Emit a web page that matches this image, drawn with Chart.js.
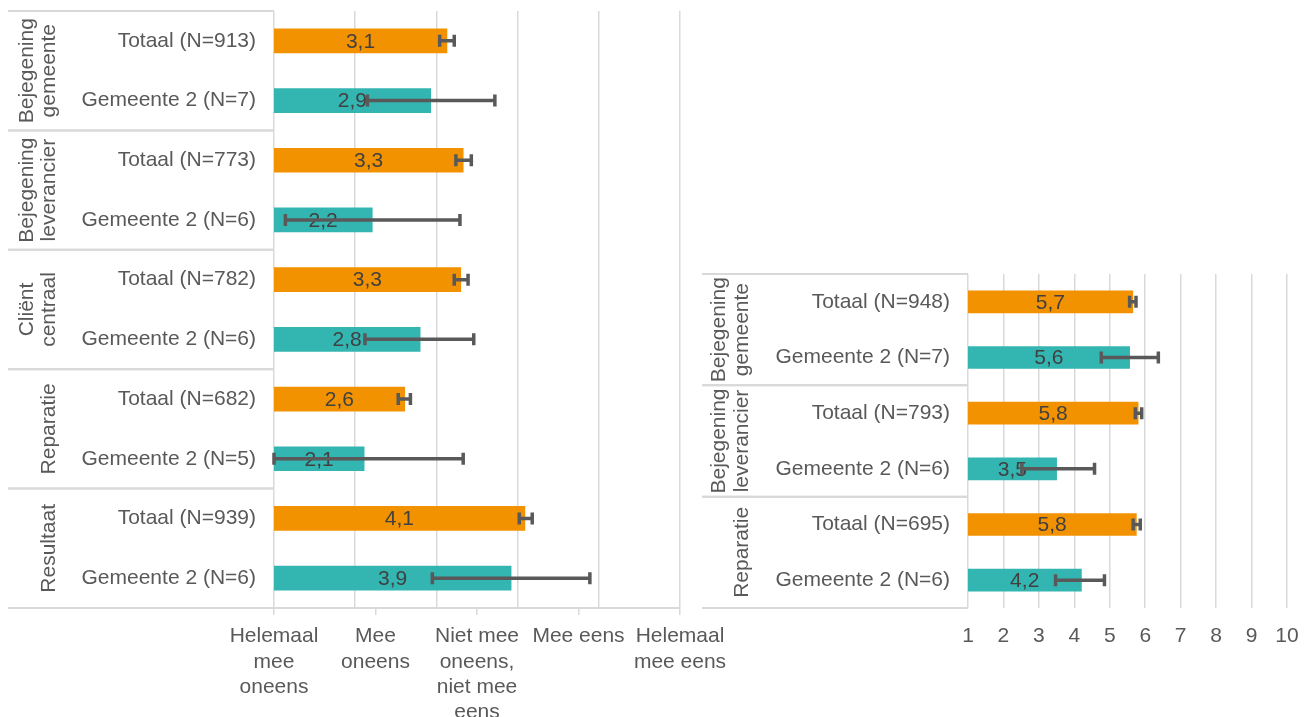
<!DOCTYPE html>
<html>
<head>
<meta charset="utf-8">
<script src="https://cdn.jsdelivr.net/npm/chart.js@4"></script>
<style>
  body { margin: 0; background: #fff; width: 1312px; height: 717px; overflow: hidden; position: relative; }
  #left { position: absolute; left: 0; top: 0; }
  #right { position: absolute; left: 690px; top: 260px; }
</style>
</head>
<body>
<canvas id="left" width="740" height="717"></canvas>
<canvas id="right" width="622" height="457"></canvas>
<script>
// left chart: agreement scale
const groupsL = [['Bejegening', 'gemeente'], ['Bejegening', 'leverancier'], ['Cliënt', 'centraal'], ['Reparatie'], ['Resultaat']];
const catsL = ['Totaal (N=913)', 'Gemeente 2 (N=7)', 'Totaal (N=773)', 'Gemeente 2 (N=6)', 'Totaal (N=782)',
  'Gemeente 2 (N=6)', 'Totaal (N=682)', 'Gemeente 2 (N=5)', 'Totaal (N=939)', 'Gemeente 2 (N=6)'];
const valuesL = [3.13, 2.93, 3.33, 2.21, 3.30, 2.80, 2.61, 2.11, 4.09, 3.92];
const lowL = [3.04, 2.15, 3.24, 1.14, 3.22, 2.12, 2.53, 1.0, 4.02, 2.95];
const highL = [3.22, 3.72, 3.43, 3.29, 3.39, 3.46, 2.68, 3.33, 4.18, 4.89];
const scaleLabelsL = [['Helemaal', 'mee', 'oneens'], ['Mee', 'oneens'], ['Niet mee', 'oneens,', 'niet mee', 'eens'], ['Mee eens'], ['Helemaal', 'mee eens']];

// right chart: grades 1-10
const groupsR = [['Bejegening', 'gemeente'], ['Bejegening', 'leverancier'], ['Reparatie']];
const catsR = ['Totaal (N=948)', 'Gemeente 2 (N=7)', 'Totaal (N=793)', 'Gemeente 2 (N=6)', 'Totaal (N=695)', 'Gemeente 2 (N=6)'];
const valuesR = [5.65, 5.56, 5.8, 3.5, 5.75, 4.2];
const lowR = [5.56, 4.76, 5.72, 2.52, 5.66, 3.47];
const highR = [5.74, 6.37, 5.9, 4.57, 5.86, 4.85];

const ORANGE = '#F39200';
const TEAL = '#33B5B1';
const GRID = '#d9d9d9';
const TEXT = '#595959';

Chart.defaults.font.family = '"Liberation Sans", Arial, sans-serif';
Chart.defaults.font.size = 21;
Chart.defaults.color = TEXT;

// group labels + separator lines in the label column
const groupPlugin = {
  id: 'groups',
  afterDraw(chart, args, opts) {
    const ctx = chart.ctx;
    const ys = chart.scales.y;
    const half = (ys.getPixelForValue(1) - ys.getPixelForValue(0)) / 2;
    ctx.save();
    ctx.strokeStyle = GRID;
    ctx.lineWidth = 2;
    opts.groups.forEach((lines, g) => {
      const top = ys.getPixelForValue(g * 2) - half;
      const bottom = ys.getPixelForValue(g * 2 + 1) + half;
      ctx.beginPath();
      ctx.moveTo(opts.lineLeft, top);
      ctx.lineTo(chart.chartArea.left, top);
      ctx.moveTo(opts.lineLeft, bottom);
      ctx.lineTo(chart.chartArea.left, bottom);
      ctx.stroke();
      ctx.fillStyle = TEXT;
      ctx.font = '21px "Liberation Sans", Arial, sans-serif';
      ctx.textAlign = 'center';
      ctx.textBaseline = 'middle';
      lines.forEach((t, i) => {
        const x = opts.textX - (lines.length - 1 - i) * opts.gap;
        ctx.save();
        ctx.translate(x, (top + bottom) / 2);
        ctx.rotate(-Math.PI / 2);
        ctx.fillText(t, 0, 0);
        ctx.restore();
      });
    });
    ctx.restore();
  }
};

// value labels and error bars
const barExtras = {
  id: 'extras',
  afterDatasetsDraw(chart, args, opts) {
    const ctx = chart.ctx;
    const xs = chart.scales.x;
    const meta = chart.getDatasetMeta(0);
    const vals = chart.data.datasets[0].data;
    const left = chart.chartArea.left;
    ctx.save();
    ctx.fillStyle = '#404040';
    ctx.font = '21px "Liberation Sans", Arial, sans-serif';
    ctx.textAlign = 'center';
    ctx.textBaseline = 'middle';
    meta.data.forEach((el, i) => {
      ctx.fillText(vals[i].toFixed(1).replace('.', ','), (el.x + Math.max(el.base, left)) / 2, el.y + 1);
    });
    ctx.strokeStyle = '#595959';
    ctx.lineWidth = 3.5;
    meta.data.forEach((el, i) => {
      const x1 = xs.getPixelForValue(opts.low[i]);
      const x2 = xs.getPixelForValue(opts.high[i]);
      ctx.beginPath();
      ctx.moveTo(x1, el.y);
      ctx.lineTo(x2, el.y);
      ctx.moveTo(x1, el.y - 6);
      ctx.lineTo(x1, el.y + 6);
      ctx.moveTo(x2, el.y - 6);
      ctx.lineTo(x2, el.y + 6);
      ctx.stroke();
    });
    ctx.restore();
  }
};

const colorsFor = (cats) => cats.map((c) => c.startsWith('Totaal') ? ORANGE : TEAL);

const fitCategoryAxis = (w) => (s) => {
  s.width = w;
  s.paddingTop = 0;
  s.paddingBottom = 0;
};

const fitValueAxis = (h) => (s) => {
  s.height = h;
  s.paddingLeft = 0;
  s.paddingRight = 0;
};

new Chart(document.getElementById('left'), {
  type: 'bar',
  data: {
    labels: catsL,
    datasets: [{ data: valuesL, backgroundColor: colorsFor(catsL), barThickness: 24 }]
  },
  options: {
    indexAxis: 'y',
    responsive: false,
    animation: false,
    layout: { padding: { left: 0, top: 11, right: 60, bottom: 0 } },
    plugins: {
      legend: { display: false },
      tooltip: { enabled: false },
      groups: { groups: groupsL, lineLeft: 8, textX: 49, gap: 22 },
      extras: { low: lowL, high: highL }
    },
    scales: {
      y: {
        ticks: { padding: 18, color: TEXT },
        grid: { display: false, drawTicks: false },
        border: { display: false },
        afterFit: fitCategoryAxis(274)
      },
      x: {
        type: 'linear', min: 1, max: 6,
        ticks: { display: false, stepSize: 1 },
        grid: { color: GRID, lineWidth: 1.5, drawTicks: false },
        border: { display: false },
        afterFit: fitValueAxis(0)
      },
      x2: {
        type: 'linear', position: 'bottom', min: 0, max: 4,
        ticks: { stepSize: 1, padding: 9, color: TEXT, maxRotation: 0, font: { size: 21, lineHeight: 1.2 },
          callback: (v) => scaleLabelsL[v] },
        grid: { drawOnChartArea: false, tickLength: 7, color: GRID, lineWidth: 1.5 },
        border: { color: GRID, width: 2 },
        afterFit: fitValueAxis(109)
      }
    }
  },
  plugins: [groupPlugin, barExtras]
});

new Chart(document.getElementById('right'), {
  type: 'bar',
  data: {
    labels: catsR,
    datasets: [{ data: valuesR, backgroundColor: colorsFor(catsR), barThickness: 22 }]
  },
  options: {
    indexAxis: 'y',
    responsive: false,
    animation: false,
    layout: { padding: { left: 0, top: 14, right: 25, bottom: 0 } },
    plugins: {
      legend: { display: false },
      tooltip: { enabled: false },
      groups: { groups: groupsR, lineLeft: 12, textX: 52, gap: 23 },
      extras: { low: lowR, high: highR }
    },
    scales: {
      y: {
        ticks: { padding: 18, color: TEXT },
        grid: { display: false, drawTicks: false },
        border: { display: false },
        afterFit: fitCategoryAxis(278)
      },
      x: {
        type: 'linear', min: 1, max: 10,
        ticks: { stepSize: 1, padding: 16, color: TEXT, maxRotation: 0 },
        grid: { color: GRID, lineWidth: 1.5, drawTicks: false },
        border: { display: false },
        afterFit: fitValueAxis(109)
      }
    }
  },
  plugins: [groupPlugin, barExtras]
});
</script>
</body>
</html>
